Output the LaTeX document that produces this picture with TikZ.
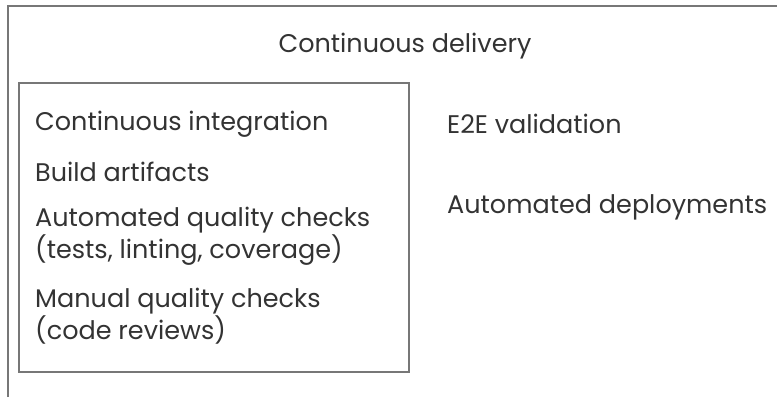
\documentclass[tikz,border=0pt]{standalone}
\usepackage{fontspec}
\setmainfont{Poppins}
\definecolor{framegray}{HTML}{777777}
\definecolor{textgray}{HTML}{333333}
\tikzset{
  frame/.style={draw=framegray,line width=1.4pt},
  label/.style={anchor=west,inner sep=0pt,text=textgray,align=left,
    font=\fontsize{25.5}{32}\selectfont},
}
\begin{document}
\begin{tikzpicture}[x=1pt,y=-1pt]
\useasboundingbox (0,0) rectangle (777,397);
% outer frame (delivery), only top and left edge
\draw[frame] (8,397) -- (8,6) -- (777,6);
\node[label,anchor=center] (cd) at (405,46) {Continuous delivery};
% inner frame (integration)
\draw[frame] (19,83) rectangle (409,372);
\node[label] (ci) at (35,124) {Continuous integration};
\node[label] (build) at (35,172) {Build artifacts};
\node[label] (autoqc) at (35,236) {Automated quality checks\\(tests, linting, coverage)};
\node[label] (manqc) at (35,316) {Manual quality checks\\(code reviews)};
% right column
\node[label] (e2e) at (447,124) {E2E validation};
\node[label] (deploy) at (447,207) {Automated deployments};
\end{tikzpicture}
\end{document}
